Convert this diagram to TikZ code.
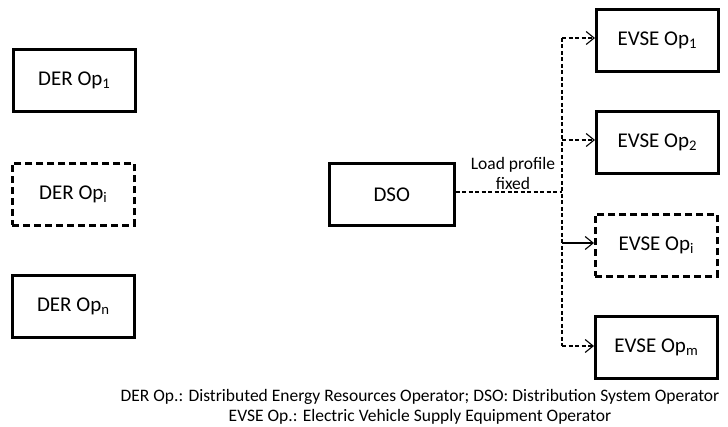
\documentclass[tikz,border=0pt]{standalone}
\usepackage{fontspec}
\setmainfont{Carlito}
\usetikzlibrary{arrows.meta}
\tikzset{
  opbox/.style={draw=black, line width=2.6pt, minimum width=122pt, minimum height=62pt,
    inner sep=0pt, font=\fontsize{21}{25}\selectfont, anchor=north west},
  dashbox/.style={opbox, dash pattern=on 7pt off 4pt},
  flow/.style={line width=1.1pt, dash pattern=on 4pt off 2.5pt},
  tip/.style={-{Straight Barb[length=8pt,width=13pt,line width=1.1pt]}}
}
\begin{document}
\begin{tikzpicture}[x=1pt,y=-1pt]
\useasboundingbox (0,0) rectangle (728,427);
% operators on the producer side
\node[opbox]   (der1) at (12,48)  {DER Op\textsubscript{1}};
\node[dashbox] (deri) at (11,162) {DER Op\textsubscript{i}};
\node[opbox]   (dern) at (11,274) {DER Op\textsubscript{n}};
% distribution system operator
\node[opbox, minimum width=125pt] (dso) at (328,162) {DSO};
% charging equipment operators
\node[opbox]   (ev1) at (595,8)   {EVSE Op\textsubscript{1}};
\node[opbox]   (ev2) at (595,110) {EVSE Op\textsubscript{2}};
\node[dashbox] (evi) at (594,213) {EVSE Op\textsubscript{i}};
\node[opbox]   (evm) at (594,315) {EVSE Op\textsubscript{m}};
% branching point of the feed
\coordinate (bus) at (562,192);
\coordinate (top) at (562,38);
\coordinate (bot) at (562,346);
\draw[flow] (dso.east |- bus) -- (bus);
\draw[flow] (top) -- (bot);
\draw[flow, tip] (top) -- (ev1.west |- top);
\draw[flow, tip] (562,140) -- (ev2.west |- 0,140);
\draw[line width=1.1pt, tip] (562,243) -- (evi.west |- 0,243);
\draw[flow, tip] (bot) -- (evm.west |- bot);
\node[font=\fontsize{17.5}{20}\selectfont, align=center, inner sep=0pt] (lbl) at (513,173) {Load profile\\fixed};
% legend
\node[font=\fontsize{17.5}{20}\selectfont, align=center, inner sep=0pt] (legend) at (420,407)
  {DER Op.: Distributed Energy Resources Operator; DSO: Distribution System Operator\\
   EVSE Op.: Electric Vehicle Supply Equipment Operator};
\end{tikzpicture}
\end{document}
